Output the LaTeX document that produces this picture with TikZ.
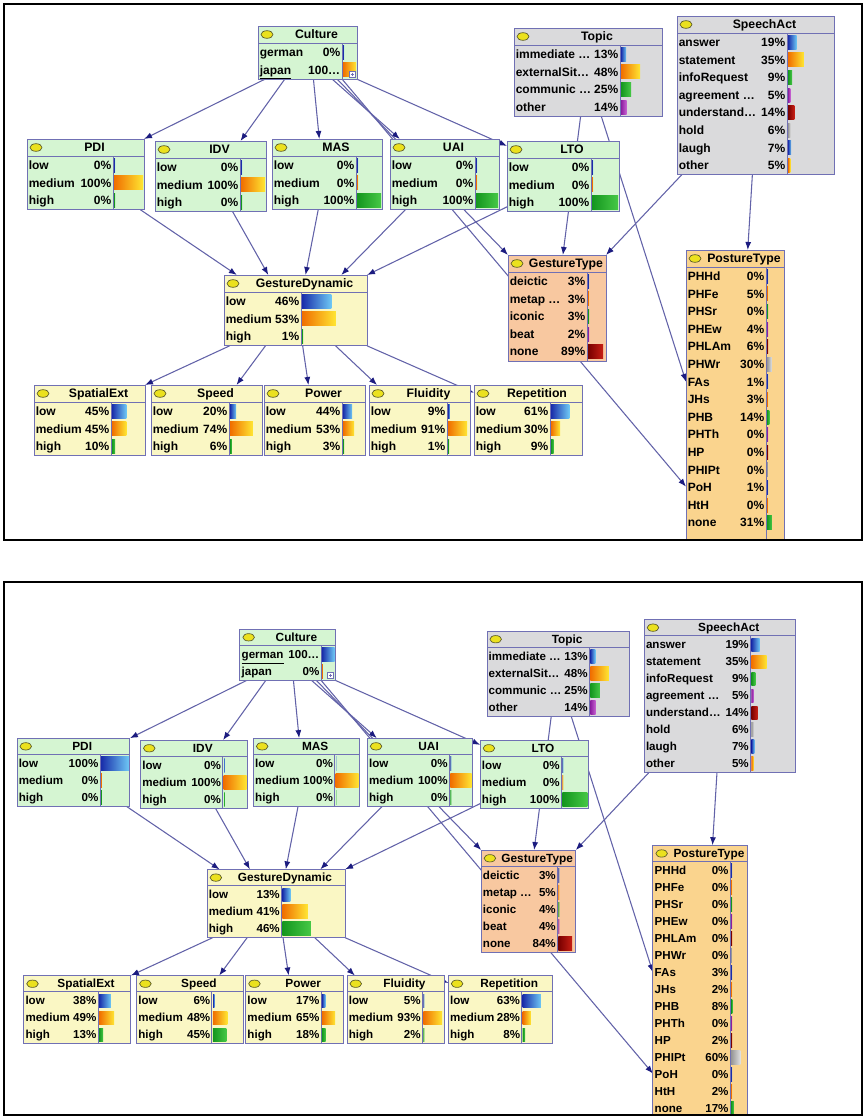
\documentclass[tikz,border=0pt]{standalone}
\usepackage{fontspec}
\setmainfont{Liberation Sans}
\usetikzlibrary{arrows.meta, calc}
\pgfdeclarelayer{background}
\pgfsetlayers{background,main}

% node and arc colours
\definecolor{bnborder}{RGB}{112,112,180}
\definecolor{bnarcline}{RGB}{98,98,168}
\definecolor{bntip}{RGB}{28,28,128}
\definecolor{cultgreen}{RGB}{213,245,210}
\definecolor{dynyellow}{RGB}{250,247,196}
\definecolor{ctxgray}{RGB}{218,218,220}
\definecolor{gestpeach}{RGB}{248,200,160}
\definecolor{postorange}{RGB}{250,212,142}
\definecolor{iconyellow}{RGB}{235,225,30}
\definecolor{iconedge}{RGB}{90,90,40}
% bar colours, left and right end of each gradient
\definecolor{barL0}{RGB}{25,45,170}   \definecolor{barR0}{RGB}{110,200,245}
\definecolor{barL1}{RGB}{240,110,0}   \definecolor{barR1}{RGB}{255,230,50}
\definecolor{barL2}{RGB}{20,150,30}   \definecolor{barR2}{RGB}{70,200,70}
\definecolor{barL3}{RGB}{140,30,160}  \definecolor{barR3}{RGB}{200,100,210}
\definecolor{barL4}{RGB}{120,0,0}     \definecolor{barR4}{RGB}{200,30,20}
\definecolor{barL5}{RGB}{150,150,150} \definecolor{barR5}{RGB}{225,225,225}

\begin{document}
\begin{tikzpicture}[x=0.75pt, y=-0.75pt,
    bnbox/.style={draw=bnborder, line width=0.75pt, anchor=north west, inner sep=0pt, outer sep=0pt},
    bnline/.style={draw=bnborder, line width=0.75pt},
    bntitle/.style={font=\fontsize{9.2}{10}\selectfont\bfseries, inner sep=0pt},
    bntext/.style={font=\fontsize{9}{10}\selectfont\bfseries, inner sep=0pt},
    bnarc/.style={draw=bnarcline, line width=0.8pt, -{Latex[length=6pt,width=4.5pt,color=bntip]}},
    panelframe/.style={draw=black, line width=2pt}]
  \useasboundingbox (0,0) rectangle (866,1117);

  % Network node macro
  \newcommand{\bnnode}[8]{
    % #1: name, #2: top left corner, #3: width, #4: bar column offset
    % #5: rows, #6: fill, #7: title, #8: states (label/percent text/value)
    \pgfmathsetmacro{\bnh}{18+#5*17.6}
    \node[bnbox, fill=#6, minimum width=#3*0.75pt, minimum height=\bnh*0.75pt] (#1) at (#2) {};
    \begin{scope}[shift={(#2)}]
      \draw[bnline] (0,17) -- (#3,17);
      \draw[bnline] (#4,17) -- (#4,\bnh);
      \draw[fill=iconyellow, draw=iconedge, line width=0.5pt] (9,8.5) ellipse [x radius=6, y radius=3.8];
      \node[bntitle, anchor=base] at ({(#3+18)/2},12.8) {#7};
      \foreach \lab/\ptxt/\val [count=\i] in {#8} {
        \pgfmathsetmacro{\yy}{17+(\i-0.5)*17.6+0.5}
        \pgfmathsetmacro{\bw}{max(1,\val/100*(#3-#4-2))}
        \pgfmathtruncatemacro{\ci}{mod(\i-1,6)}
        \node[bntext, anchor=base west] at (1.5,\yy+4.2) {\lab};
        \node[bntext, anchor=base east] at (#4-1.5,\yy+4.2) {\ptxt};
        \shade[left color=barL\ci, right color=barR\ci] (#4+1,\yy-7) rectangle ++(\bw,14);
      }
    \end{scope}
  }

  % Arcs of the network, drawn behind the nodes
  \newcommand{\bnarcs}[1]{
    \begin{pgfonlayer}{background}
      % Culture to its children
      \draw[bnarc] ($(#1culture.south west)!.07!(#1culture.south east)$) -- (#1pdi.north east);
      \draw[bnarc] ($(#1culture.south west)!.27!(#1culture.south east)$) -- ($(#1idv.north west)!.77!(#1idv.north east)$);
      \draw[bnarc] ($(#1culture.south west)!.56!(#1culture.south east)$) -- ($(#1mas.north west)!.43!(#1mas.north east)$);
      \draw[bnarc] ($(#1culture.south west)!.75!(#1culture.south east)$) -- ($(#1uai.north west)!.09!(#1uai.north east)$);
      \draw[bnarc] ($(#1culture.south west)!.80!(#1culture.south east)$) -- (#1gtype.north west);
      \draw[bnarc] ($(#1culture.south west)!.85!(#1culture.south east)$) -- ($(#1ptype.north west)!.79!(#1ptype.south west)$);
      \draw[bnarc] (#1culture.south east) -- ($(#1lto.north west)!.07!(#1lto.south west)$);
      % dimensions to GestureDynamic
      \draw[bnarc] ($(#1pdi.south west)!.97!(#1pdi.south east)$) -- ($(#1gdyn.north west)!.09!(#1gdyn.north east)$);
      \draw[bnarc] ($(#1idv.south west)!.70!(#1idv.south east)$) -- ($(#1gdyn.north west)!.31!(#1gdyn.north east)$);
      \draw[bnarc] ($(#1mas.south west)!.42!(#1mas.south east)$) -- ($(#1gdyn.north west)!.57!(#1gdyn.north east)$);
      \draw[bnarc] ($(#1uai.south west)!.14!(#1uai.south east)$) -- ($(#1gdyn.north west)!.82!(#1gdyn.north east)$);
      \draw[bnarc] ($(#1lto.north west)!.93!(#1lto.south west)$) -- (#1gdyn.north east);
      % Topic and SpeechAct
      \draw[bnarc] ($(#1topic.south west)!.45!(#1topic.south east)$) -- ($(#1gtype.north west)!.56!(#1gtype.north east)$);
      \draw[bnarc] ($(#1topic.south west)!.59!(#1topic.south east)$) -- ($(#1ptype.north west)!.44!(#1ptype.south west)$);
      \draw[bnarc] ($(#1speech.south west)!.03!(#1speech.south east)$) -- (#1gtype.north east);
      \draw[bnarc] ($(#1speech.south west)!.48!(#1speech.south east)$) -- ($(#1ptype.north west)!.63!(#1ptype.north east)$);
      % GestureDynamic to the expressivity parameters
      \draw[bnarc] ($(#1gdyn.south west)!.04!(#1gdyn.south east)$) -- (#1spatial.north east);
      \draw[bnarc] ($(#1gdyn.south west)!.29!(#1gdyn.south east)$) -- ($(#1speed.north west)!.77!(#1speed.north east)$);
      \draw[bnarc] ($(#1gdyn.south west)!.55!(#1gdyn.south east)$) -- ($(#1power.north west)!.44!(#1power.north east)$);
      \draw[bnarc] ($(#1gdyn.south west)!.78!(#1gdyn.south east)$) -- ($(#1fluid.north west)!.08!(#1fluid.north east)$);
      \draw[bnarc] (#1gdyn.south east) -- ($(#1repet.north west)!.11!(#1repet.south west)$);
    \end{pgfonlayer}
  }

  % Panel 1: japan observed
  \begin{scope}
    \clip (4,4) rectangle (862,540);
    \bnnode{aculture}{258,26}{99}{84}{2}{cultgreen}{Culture}{german/0\%/0, \underline{japan}/100\ldots/100}
    \draw[bnline, fill=white] (349,71) rectangle (355,77);
    \draw[bnline, line width=0.4pt] (350.5,74) -- (353.5,74) (352,72.5) -- (352,75.5);
    \bnnode{atopic}{514,28}{148}{106}{4}{ctxgray}{Topic}{immediate \ldots/13\%/13, externalSit\ldots/48\%/48, communic \ldots/25\%/25, other/14\%/14}
    \bnnode{aspeech}{677,16}{157}{110}{8}{ctxgray}{SpeechAct}{answer/19\%/19, statement/35\%/35, infoRequest/9\%/9, agreement \ldots/5\%/5, understand\ldots/14\%/14, hold/6\%/6, laugh/7\%/7, other/5\%/5}
    \bnnode{apdi}{27,139}{117}{86}{3}{cultgreen}{PDI}{low/0\%/0, medium/100\%/100, high/0\%/0}
    \bnnode{aidv}{155,141}{111}{85}{3}{cultgreen}{IDV}{low/0\%/0, medium/100\%/100, high/0\%/0}
    \bnnode{amas}{272,139}{110}{84}{3}{cultgreen}{MAS}{low/0\%/0, medium/0\%/0, high/100\%/100}
    \bnnode{auai}{390,139}{109}{85}{3}{cultgreen}{UAI}{low/0\%/0, medium/0\%/0, high/100\%/100}
    \bnnode{alto}{507,141}{112}{84}{3}{cultgreen}{LTO}{low/0\%/0, medium/0\%/0, high/100\%/100}
    \bnnode{agdyn}{224,275}{143}{77}{3}{dynyellow}{GestureDynamic}{low/46\%/46, medium/53\%/53, high/1\%/1}
    \bnnode{agtype}{508,255}{98}{79}{5}{gestpeach}{GestureType}{deictic/3\%/3, metap \ldots/3\%/3, iconic/3\%/3, beat/2\%/2, none/89\%/89}
    \bnnode{aptype}{686,250}{98}{80}{16}{postorange}{PostureType}{PHHd/0\%/0, PHFe/5\%/5, PHSr/0\%/0, PHEw/4\%/4, PHLAm/6\%/6, PHWr/30\%/30, FAs/1\%/1, JHs/3\%/3, PHB/14\%/14, PHTh/0\%/0, HP/0\%/0, PHIPt/0\%/0, PoH/1\%/1, HtH/0\%/0, none/31\%/31}
    \bnnode{aspatial}{34,385}{111}{77}{3}{dynyellow}{SpatialExt}{low/45\%/45, medium/45\%/45, high/10\%/10}
    \bnnode{aspeed}{151,385}{111}{78}{3}{dynyellow}{Speed}{low/20\%/20, medium/74\%/74, high/6\%/6}
    \bnnode{apower}{264,385}{101}{78}{3}{dynyellow}{Power}{low/44\%/44, medium/53\%/53, high/3\%/3}
    \bnnode{afluid}{369,385}{101}{78}{3}{dynyellow}{Fluidity}{low/9\%/9, medium/91\%/91, high/1\%/1}
    \bnnode{arepet}{474,385}{108}{76}{3}{dynyellow}{Repetition}{low/61\%/61, medium/30\%/30, high/9\%/9}
    \bnarcs{a}
  \end{scope}
  \draw[panelframe] (4,4) rectangle (862,540);

  % Panel 2: german observed
  \begin{scope}
    \clip (4,582) rectangle (862,1115);
    \begin{scope}[shift={(-9,604)}, scale=0.965, transform shape]
      \bnnode{bculture}{258,26}{99}{84}{2}{cultgreen}{Culture}{\underline{german}/100\ldots/100, japan/0\%/0}
      \draw[bnline, fill=white] (349,71) rectangle (355,77);
      \draw[bnline, line width=0.4pt] (350.5,74) -- (353.5,74) (352,72.5) -- (352,75.5);
      \bnnode{btopic}{514,28}{148}{106}{4}{ctxgray}{Topic}{immediate \ldots/13\%/13, externalSit\ldots/48\%/48, communic \ldots/25\%/25, other/14\%/14}
      \bnnode{bspeech}{677,16}{157}{110}{8}{ctxgray}{SpeechAct}{answer/19\%/19, statement/35\%/35, infoRequest/9\%/9, agreement \ldots/5\%/5, understand\ldots/14\%/14, hold/6\%/6, laugh/7\%/7, other/5\%/5}
      \bnnode{bpdi}{27,139}{117}{86}{3}{cultgreen}{PDI}{low/100\%/100, medium/0\%/0, high/0\%/0}
      \bnnode{bidv}{155,141}{111}{85}{3}{cultgreen}{IDV}{low/0\%/0, medium/100\%/100, high/0\%/0}
      \bnnode{bmas}{272,139}{110}{84}{3}{cultgreen}{MAS}{low/0\%/0, medium/100\%/100, high/0\%/0}
      \bnnode{buai}{390,139}{109}{85}{3}{cultgreen}{UAI}{low/0\%/0, medium/100\%/100, high/0\%/0}
      \bnnode{blto}{507,141}{112}{84}{3}{cultgreen}{LTO}{low/0\%/0, medium/0\%/0, high/100\%/100}
      \bnnode{bgdyn}{224,275}{143}{77}{3}{dynyellow}{GestureDynamic}{low/13\%/13, medium/41\%/41, high/46\%/46}
      \bnnode{bgtype}{508,255}{98}{79}{5}{gestpeach}{GestureType}{deictic/3\%/3, metap \ldots/5\%/5, iconic/4\%/4, beat/4\%/4, none/84\%/84}
      \bnnode{bptype}{686,250}{98}{80}{16}{postorange}{PostureType}{PHHd/0\%/0, PHFe/0\%/0, PHSr/0\%/0, PHEw/0\%/0, PHLAm/0\%/0, PHWr/0\%/0, FAs/3\%/3, JHs/2\%/2, PHB/8\%/8, PHTh/0\%/0, HP/2\%/2, PHIPt/60\%/60, PoH/0\%/0, HtH/2\%/2, none/17\%/17}
      \bnnode{bspatial}{34,385}{111}{77}{3}{dynyellow}{SpatialExt}{low/38\%/38, medium/49\%/49, high/13\%/13}
      \bnnode{bspeed}{151,385}{111}{78}{3}{dynyellow}{Speed}{low/6\%/6, medium/48\%/48, high/45\%/45}
      \bnnode{bpower}{264,385}{101}{78}{3}{dynyellow}{Power}{low/17\%/17, medium/65\%/65, high/18\%/18}
      \bnnode{bfluid}{369,385}{101}{78}{3}{dynyellow}{Fluidity}{low/5\%/5, medium/93\%/93, high/2\%/2}
      \bnnode{brepet}{474,385}{108}{76}{3}{dynyellow}{Repetition}{low/63\%/63, medium/28\%/28, high/8\%/8}
      \bnarcs{b}
    \end{scope}
  \end{scope}
  \draw[panelframe] (4,582) rectangle (862,1115);
\end{tikzpicture}
\end{document}
